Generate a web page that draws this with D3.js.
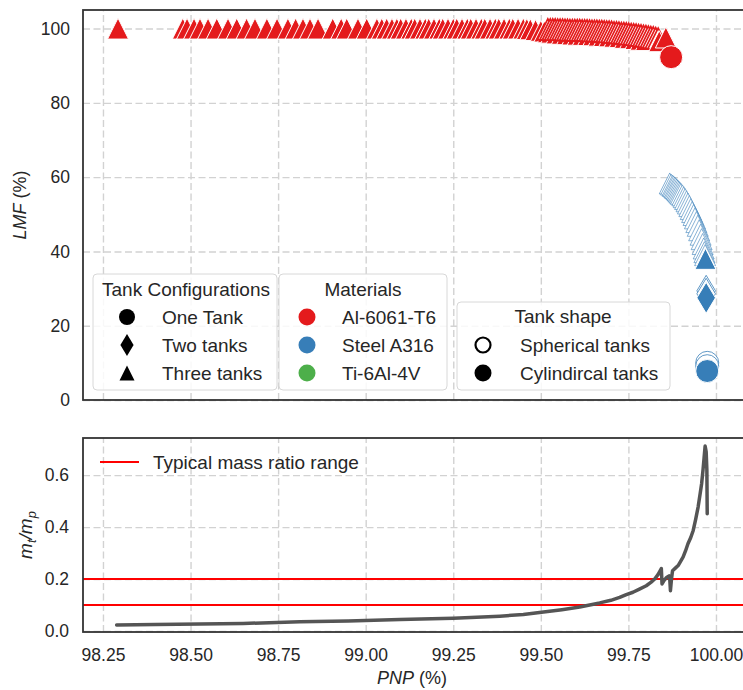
<!DOCTYPE html>
<html lang="en">
<head>
<meta charset="UTF-8">
<title>LMF and tank mass ratio vs PNP</title>
<script src="https://cdn.jsdelivr.net/npm/d3@7"></script>
<style>
  html, body { margin: 0; background: #fff; }
  body { font-family: "Liberation Sans", Arial, sans-serif; }
  .grid line { stroke: #d2d2d2; stroke-width: 1.4; stroke-dasharray: 7,3.5; }
  .grid path, .labels path { display: none; }
  .labels text { font-size: 17.5px; fill: #262626; font-family: "Liberation Sans", Arial, sans-serif; }
  .leg text { font-size: 19px; fill: #262626; }
</style>
</head>
<body>
<svg id="chart" width="743" height="690"></svg>
<script>
// ---- data ----
var xTicks = [98.25, 98.5, 98.75, 99.0, 99.25, 99.5, 99.75, 100.0];
var lmfTicks = [0, 20, 40, 60, 80, 100];
var ratioTicks = [0.0, 0.2, 0.4, 0.6];
var ratioRange = [0.1, 0.2];

var materials = ["Al-6061-T6", "Steel A316", "Ti-6Al-4V"];
var materialColors = ["#e41a1c", "#377eb8", "#4daf4a"];
var configs = ["One Tank", "Two tanks", "Three tanks"];
var shapes = ["Spherical tanks", "Cylindircal tanks"];

// Al, three tanks, cylindrical (filled)
var alCylTriPnp = [98.293, 98.478, 98.49, 98.51, 98.527, 98.55, 98.575, 98.607, 98.632, 98.66, 98.684,
  98.718, 98.747, 98.778, 98.80, 98.821, 98.841, 98.864, 98.906, 98.93, 98.946, 98.978, 99.003,
  99.032, 99.046, 99.060, 99.075, 99.089, 99.10, 99.115, 99.13, 99.14, 99.155, 99.17, 99.18,
  99.195, 99.21, 99.22, 99.235, 99.25, 99.26, 99.275, 99.29, 99.30, 99.315, 99.33, 99.34, 99.355,
  99.37, 99.38, 99.395, 99.41, 99.42, 99.435, 99.45, 99.46, 99.47, 99.485, 99.50, 99.51, 99.52,
  99.53, 99.545, 99.56, 99.575, 99.59, 99.605, 99.62, 99.635, 99.65, 99.665, 99.68, 99.695,
  99.71, 99.725, 99.74, 99.755, 99.77, 99.785, 99.80];
var alCylTriLmf = [100, 100, 100, 100, 100, 100, 100, 100, 100, 100, 100,
  100, 100, 100, 100, 100, 100, 100, 100, 100, 100, 100, 100,
  100, 100, 100, 100, 100, 100, 100, 100, 100, 100, 100, 100,
  100, 100, 100, 100, 100, 100, 100, 100, 100, 100, 100, 100, 100,
  100, 100, 100, 100, 100, 100, 100, 99.9, 99.8, 99.6, 99.4, 99.2, 99.0,
  98.9, 98.7, 98.6, 98.5, 98.4, 98.35, 98.3, 98.25, 98.2, 98.1, 98.0, 97.9,
  97.8, 97.7, 97.5, 97.4, 97.2, 97.0, 96.9];

// Al, three tanks, spherical (hollow)
var alSphTriPnp = [99.52, 99.527, 99.534, 99.541, 99.548, 99.555, 99.562, 99.569, 99.576, 99.583,
  99.590, 99.597, 99.604, 99.611, 99.618, 99.625, 99.632, 99.639, 99.646, 99.653, 99.660, 99.667,
  99.674, 99.681, 99.688, 99.695, 99.702, 99.709, 99.716, 99.723, 99.730, 99.737, 99.744, 99.751,
  99.758, 99.765, 99.772, 99.779, 99.786, 99.793, 99.800, 99.807, 99.814, 99.821, 99.828, 99.835];
var alSphTriLmf = [99.8, 99.8, 99.75, 99.75, 99.7, 99.7, 99.7, 99.65, 99.65, 99.6,
  99.6, 99.6, 99.55, 99.55, 99.5, 99.5, 99.5, 99.45, 99.4, 99.4, 99.35, 99.3,
  99.3, 99.25, 99.2, 99.15, 99.1, 99.0, 98.95, 98.9, 98.8, 98.75, 98.7, 98.6,
  98.5, 98.45, 98.35, 98.25, 98.15, 98.05, 97.95, 97.85, 97.7, 97.6, 97.45, 97.3];

// last Al points
var alEndTriPnp = [99.838, 99.857];
var alEndTriLmf = [96.6, 97.6];
var alCylCirPnp = [99.872];
var alCylCirLmf = [92.3];

// Steel, spherical (hollow) and cylindrical (filled)
var stSphTriPnp = [99.868, 99.872, 99.876, 99.879, 99.882, 99.885, 99.888, 99.891, 99.894, 99.897,
  99.900, 99.904, 99.908, 99.912, 99.916, 99.920, 99.924, 99.928, 99.932, 99.936, 99.940, 99.944,
  99.948, 99.952, 99.956, 99.959, 99.962, 99.965, 99.967, 99.969];
var stSphTriLmf = [58.3, 58.0, 57.7, 57.5, 57.2, 57.0, 56.7, 56.4, 56.1, 55.8,
  55.5, 55.1, 54.6, 54.1, 53.5, 52.9, 52.2, 51.4, 50.6, 49.8, 48.9, 47.9,
  46.9, 45.7, 44.5, 43.3, 42.0, 40.8, 39.8, 39.0];
var stCylTriPnp = [99.970];
var stCylTriLmf = [38.0];
var stSphDiaPnp = [99.972, 99.972];
var stSphDiaLmf = [29.4, 28.6];
var stCylDiaPnp = [99.972];
var stCylDiaLmf = [27.5];
var stSphCirPnp = [99.975, 99.975];
var stSphCirLmf = [10.0, 9.1];
var stCylCirPnp = [99.975];
var stCylCirLmf = [7.8];

// tank mass / propellant mass
var ratioPnp = [98.289, 98.40, 98.527, 98.65, 98.812, 98.95, 99.098, 99.25, 99.383, 99.45, 99.502,
  99.56, 99.611, 99.668, 99.70, 99.725, 99.744, 99.763, 99.78, 99.801, 99.815, 99.825, 99.835,
  99.844, 99.846, 99.852, 99.859, 99.866, 99.868, 99.870, 99.873, 99.876, 99.884, 99.892, 99.899,
  99.906, 99.913, 99.920, 99.928, 99.935, 99.942, 99.949, 99.955, 99.959, 99.963, 99.966, 99.969,
  99.972, 99.974, 99.975];
var ratioVal = [0.023, 0.025, 0.027, 0.029, 0.035, 0.038, 0.044, 0.049, 0.057, 0.063, 0.072,
  0.082, 0.092, 0.108, 0.118, 0.129, 0.140, 0.149, 0.160, 0.174, 0.188, 0.200, 0.218,
  0.240, 0.181, 0.195, 0.206, 0.212, 0.200, 0.155, 0.200, 0.232, 0.242, 0.252, 0.268,
  0.284, 0.308, 0.336, 0.360, 0.387, 0.430, 0.477, 0.530, 0.567, 0.620, 0.665, 0.712,
  0.690, 0.620, 0.451];

// ---- layout ----
var svg = d3.select("#chart");
var L = 83, R = 744;
var top1 = 10, bot1 = 400, top2 = 438, bot2 = 632;

var x = d3.scaleLinear().domain([98.193, 100.08]).range([L, R]);
var yTop = d3.scaleLinear().domain([0, 105]).range([bot1, top1]);
var yBot = d3.scaleLinear().domain([-0.004, 0.743]).range([bot2, top2]);

function grid(yScale, yTicks, t, b) {
  svg.append("g").attr("class", "grid").attr("transform", "translate(0," + b + ")")
    .call(d3.axisBottom(x).tickValues(xTicks).tickSize(-(b - t)).tickFormat(""));
  svg.append("g").attr("class", "grid").attr("transform", "translate(" + L + ",0)")
    .call(d3.axisLeft(yScale).tickValues(yTicks).tickSize(-(R - L)).tickFormat(""));
}
grid(yTop, lmfTicks, top1, bot1);
grid(yBot, ratioTicks, top2, bot2);

// ---- markers ----
function markerPath(shape, r) {
  if (shape === "circle") return d3.symbol(d3.symbolCircle, Math.PI * r * r)();
  if (shape === "triangle") return "M0," + (-r) + "L" + r + "," + r + "L" + (-r) + "," + r + "Z";
  return "M0," + (-r) + "L" + (0.6 * r) + ",0L0," + r + "L" + (-0.6 * r) + ",0Z";
}
var sizes = {triangle: 10.5, diamond: 15.5, circle: 11.5};

function drawSeries(pnp, lmf, shape, color, hollow, lw) {
  var pts = pnp.map(function(p, i) { return {p: p, v: lmf[i]}; });
  svg.append("g").selectAll("path").data(pts).enter().append("path")
    .attr("d", markerPath(shape, sizes[shape]))
    .attr("transform", function(d) { return "translate(" + x(d.p) + "," + yTop(d.v) + ")"; })
    .attr("fill", hollow ? "#fff" : color)
    .attr("stroke", hollow ? color : "#fff")
    .attr("stroke-width", lw);
}
var red = materialColors[0], blue = materialColors[1];
drawSeries(alCylTriPnp, alCylTriLmf, "triangle", red, false, 1);
drawSeries(alSphTriPnp, alSphTriLmf, "triangle", red, true, 1.7);
drawSeries(alEndTriPnp, alEndTriLmf, "triangle", red, false, 1);
drawSeries(alCylCirPnp, alCylCirLmf, "circle", red, false, 1);
drawSeries(stSphTriPnp, stSphTriLmf, "triangle", blue, true, 0.6);
drawSeries(stCylTriPnp, stCylTriLmf, "triangle", blue, false, 1);
drawSeries(stSphDiaPnp, stSphDiaLmf, "diamond", blue, true, 0.8);
drawSeries(stCylDiaPnp, stCylDiaLmf, "diamond", blue, false, 1);
drawSeries(stSphCirPnp, stSphCirLmf, "circle", blue, true, 0.8);
drawSeries(stCylCirPnp, stCylCirLmf, "circle", blue, false, 1);

// ---- bottom panel lines ----
svg.append("g").selectAll("line").data(ratioRange).enter().append("line")
  .attr("x1", L).attr("x2", R)
  .attr("y1", function(d) { return yBot(d); }).attr("y2", function(d) { return yBot(d); })
  .attr("stroke", "#ff0000").attr("stroke-width", 2);

var ratioPts = ratioPnp.map(function(p, i) { return [p, ratioVal[i]]; });
svg.append("path").datum(ratioPts)
  .attr("d", d3.line().x(function(d) { return x(d[0]); }).y(function(d) { return yBot(d[1]); }))
  .attr("fill", "none").attr("stroke", "#555").attr("stroke-width", 3.5)
  .attr("stroke-linejoin", "round").attr("stroke-linecap", "round");

// ---- frames ----
[[top1, bot1], [top2, bot2]].forEach(function(f) {
  svg.append("rect").attr("x", L).attr("y", f[0]).attr("width", R - L).attr("height", f[1] - f[0])
    .attr("fill", "none").attr("stroke", "#333").attr("stroke-width", 1.8);
});

// ---- tick labels ----
svg.append("g").attr("class", "labels").attr("transform", "translate(" + L + ",0)")
  .call(d3.axisLeft(yTop).tickValues(lmfTicks).tickSize(0).tickPadding(13).tickFormat(d3.format("d")));
svg.append("g").attr("class", "labels").attr("transform", "translate(" + L + ",0)")
  .call(d3.axisLeft(yBot).tickValues(ratioTicks).tickSize(0).tickPadding(14).tickFormat(d3.format(".1f")));
svg.append("g").attr("class", "labels").attr("transform", "translate(0," + bot2 + ")")
  .call(d3.axisBottom(x).tickValues(xTicks).tickSize(0).tickPadding(17).tickFormat(d3.format(".2f")));

// ---- axis titles ----
var lab1 = svg.append("text").attr("transform", "translate(26," + ((top1 + bot1) / 2) + ") rotate(-90)")
  .attr("text-anchor", "middle").attr("font-size", 18).attr("fill", "#262626");
lab1.append("tspan").attr("font-style", "italic").text("LMF");
lab1.append("tspan").text(" (%)");

var lab2 = svg.append("text").attr("transform", "translate(32," + ((top2 + bot2) / 2) + ") rotate(-90)")
  .attr("text-anchor", "middle").attr("font-size", 19).attr("fill", "#262626").attr("font-style", "italic");
lab2.append("tspan").text("m");
lab2.append("tspan").attr("font-size", 13).attr("dy", 4).text("t");
lab2.append("tspan").attr("dy", -4).text("/m");
lab2.append("tspan").attr("font-size", 13).attr("dy", 4).text("p");

var lab3 = svg.append("text").attr("x", (L + 741) / 2).attr("y", 684)
  .attr("text-anchor", "middle").attr("font-size", 18).attr("fill", "#262626");
lab3.append("tspan").attr("font-style", "italic").text("PNP");
lab3.append("tspan").text(" (%)");

// ---- legends ----
function legendBox(bx, by, bw, bh, title, tx, ty) {
  var g = svg.append("g").attr("class", "leg");
  g.append("rect").attr("x", bx).attr("y", by).attr("width", bw).attr("height", bh).attr("rx", 4)
    .attr("fill", "#fff").attr("fill-opacity", 0.85).attr("stroke", "#d8d8d8").attr("stroke-width", 1);
  g.append("text").attr("x", tx).attr("y", ty).attr("text-anchor", "middle").text(title);
  return g;
}
var rowsY = [317, 345, 373];

var g1 = legendBox(93, 274, 184, 116, "Tank Configurations", 186, 296);
var cfgShapes = [["circle", 8], ["diamond", 11], ["triangle", 7.5]];
configs.forEach(function(c, i) {
  g1.append("path").attr("d", markerPath(cfgShapes[i][0], cfgShapes[i][1]))
    .attr("transform", "translate(127," + rowsY[i] + ")").attr("fill", "#000");
  g1.append("text").attr("x", 162).attr("y", rowsY[i] + 7).text(c);
});

var g2 = legendBox(279, 274, 168, 116, "Materials", 363, 296);
materials.forEach(function(m, i) {
  g2.append("path").attr("d", markerPath("circle", 8.5))
    .attr("transform", "translate(307," + rowsY[i] + ")").attr("fill", materialColors[i]);
  g2.append("text").attr("x", 342).attr("y", rowsY[i] + 7).text(m);
});

var g3 = legendBox(457, 302, 213, 88, "Tank shape", 563, 323);
shapes.forEach(function(s, i) {
  var hollow = i === 0;
  g3.append("path").attr("d", markerPath("circle", hollow ? 7.5 : 8.5))
    .attr("transform", "translate(483," + rowsY[i + 1] + ")")
    .attr("fill", hollow ? "#fff" : "#000").attr("stroke", "#000").attr("stroke-width", hollow ? 2.2 : 0);
  g3.append("text").attr("x", 520).attr("y", rowsY[i + 1] + 7).text(s);
});

var g4 = svg.append("g").attr("class", "leg");
g4.append("line").attr("x1", 100).attr("x2", 139).attr("y1", 462).attr("y2", 462)
  .attr("stroke", "#ff0000").attr("stroke-width", 2);
g4.append("text").attr("x", 153).attr("y", 469).text("Typical mass ratio range");
</script>
</body>
</html>
